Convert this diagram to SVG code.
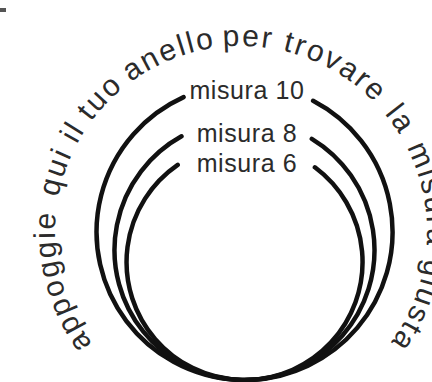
<svg xmlns="http://www.w3.org/2000/svg" width="432" height="382" viewBox="0 0 432 382">
  <style>
    .ring { fill: none; stroke: #111; stroke-width: 4.5; stroke-linecap: round; }
    .lbl { font-family: "Liberation Sans", Arial, sans-serif; font-size: 25px; fill: #2b2b2b; text-anchor: middle; letter-spacing: 0.6px; }
    .arc { font-family: "Liberation Sans", Arial, sans-serif; font-size: 30px; fill: #2b2b2b; letter-spacing: 2.2px; }
  </style>
  <defs>
    <path id="textCircle" d="M 241 418 A 186 186 0 1 1 241 46 A 186 186 0 1 1 241 418"/>
  </defs>
  <rect width="432" height="382" fill="#ffffff"/>
  <rect x="0" y="8" width="6" height="4" fill="#555"/>

  <g id="outer-text">
    <text class="arc"><textPath href="#textCircle" startOffset="172">appoggie</textPath> <textPath href="#textCircle" startOffset="327">qui</textPath> <textPath href="#textCircle" startOffset="383">il</textPath> <textPath href="#textCircle" startOffset="410">tuo</textPath> <textPath href="#textCircle" startOffset="466">anello</textPath> <textPath href="#textCircle" startOffset="566">per</textPath> <textPath href="#textCircle" startOffset="626">trovare</textPath> <textPath href="#textCircle" startOffset="748">la</textPath> <textPath href="#textCircle" startOffset="788">misura</textPath> <textPath href="#textCircle" startOffset="903">giusta</textPath></text>
  </g>

  <g id="ring-10">
    <path class="ring" d="M 183.6 97.1 A 148 148 0 1 0 313.1 100.8"/>
    <text class="lbl" x="247" y="99">misura 10</text>
  </g>
  <g id="ring-8">
    <path class="ring" d="M 181.5 136.3 A 130 130 0 1 0 311.8 138.8"/>
    <text class="lbl" x="247" y="141.5">misura 8</text>
  </g>
  <g id="ring-6">
    <path class="ring" d="M 177.7 164.8 A 118 118 0 1 0 314.9 167.3"/>
    <text class="lbl" x="247" y="171.5">misura 6</text>
  </g>
  <g id="connectors"></g>
</svg>
